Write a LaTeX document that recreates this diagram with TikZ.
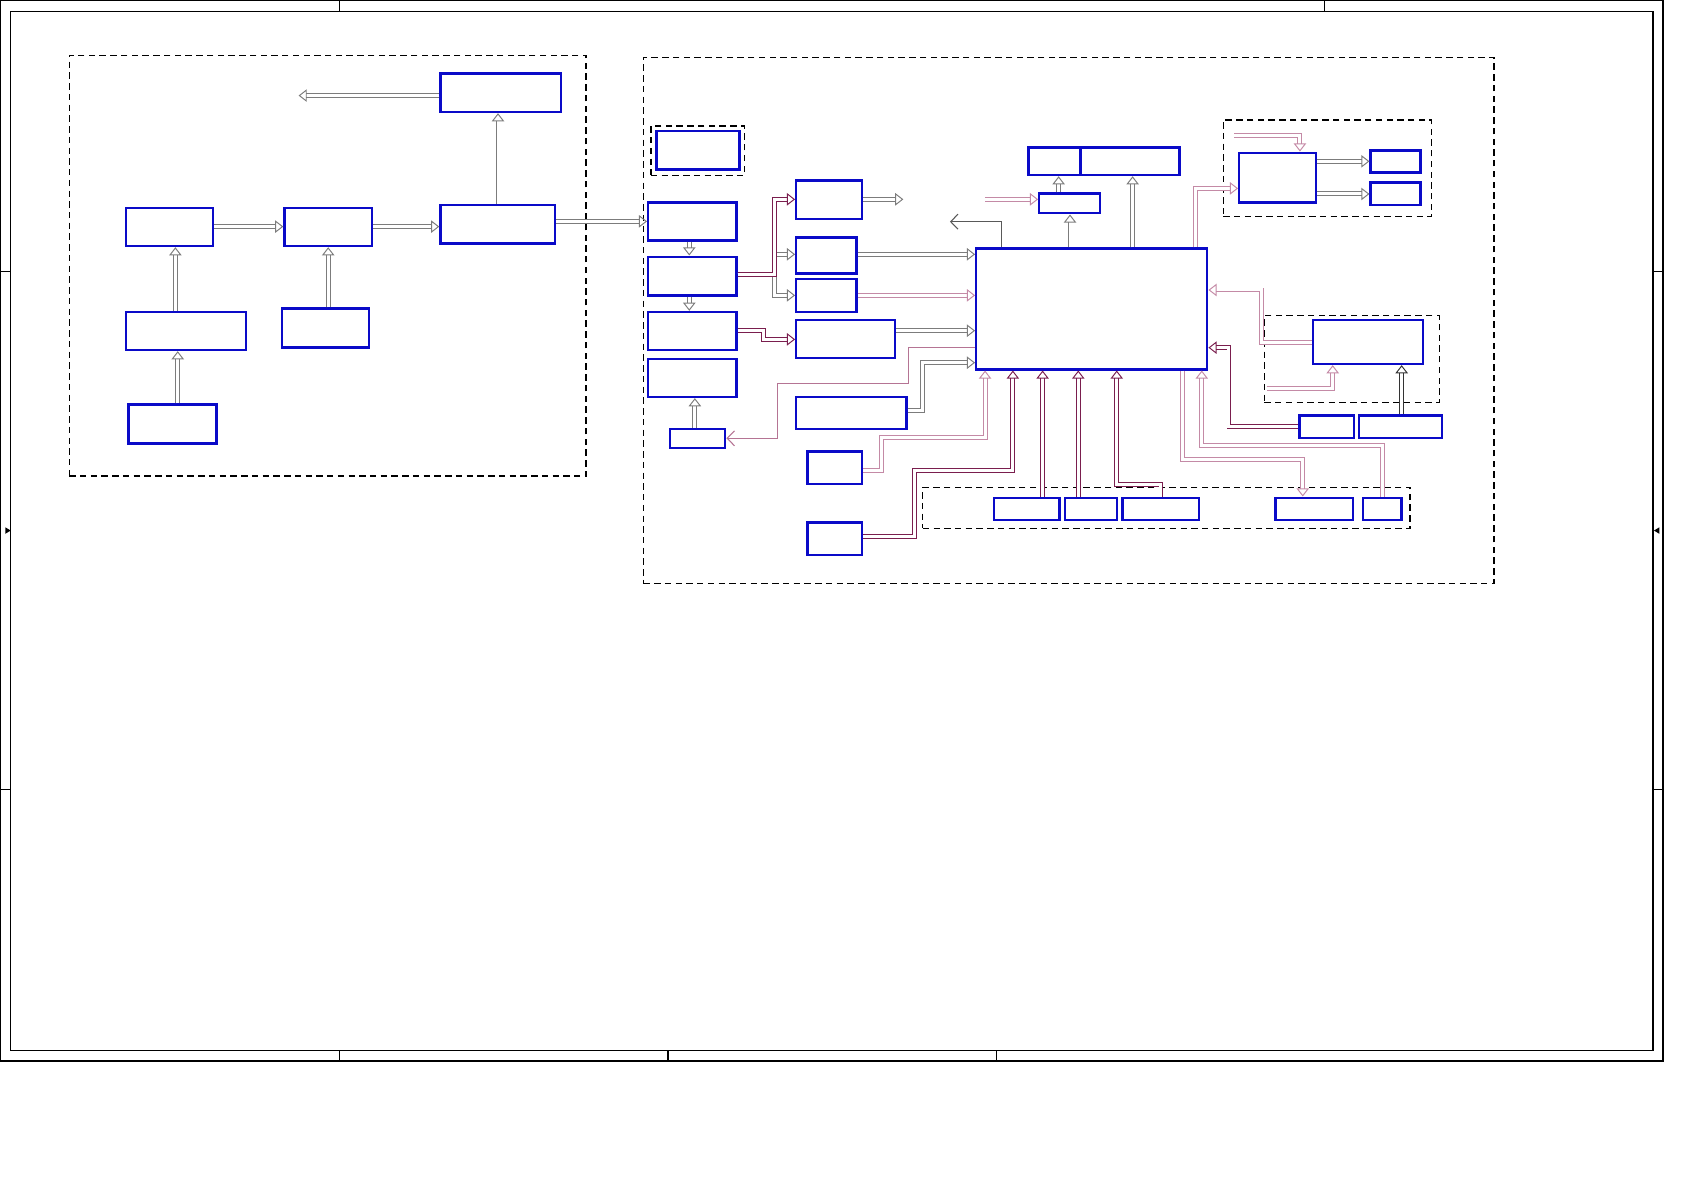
\documentclass[tikz,border=0pt]{standalone}
\usetikzlibrary{arrows.meta,fit}
\definecolor{blkblue}{HTML}{0A0AC8}
\definecolor{busgrey}{HTML}{7C7C7C}
\definecolor{buswine}{HTML}{7A1E4E}
\definecolor{buspinkc}{HTML}{C48AA6}
\begin{document}
\begin{tikzpicture}[
  x=0.5pt, y=-0.5pt,
  blk/.style={draw=blkblue, line width=1.1pt, inner sep=0pt},
  grp/.style={draw=black, line width=0.55pt, dash pattern=on 3pt off 2pt, inner sep=0pt},
  bus/.style={draw=busgrey, line width=0.45pt, double=white, double distance=1.4pt,
    -{Triangle[open, length=3.8pt, width=5.8pt]}},
  busw/.style={bus, draw=buswine},
  busp/.style={bus, draw=buspinkc},
  wire/.style={draw=black!65, line width=0.5pt, -{Straight Barb[length=3.4pt, width=7pt]}},
  wirep/.style={wire, draw=buspinkc!80!buswine},
]
  \useasboundingbox (0,0) rectangle (1568,1108);

  %% ---- Frame ----
  \draw[line width=0.8pt] (0.5,0.5) rectangle (1548.5,988);
  \draw[line width=0.6pt] (10,10.5) rectangle (1539,978);
  \foreach \x in {316,1233} \draw[line width=0.5pt] (\x,0.5) -- (\x,10.5);
  \foreach \x in {316,622,928} \draw[line width=0.5pt] (\x,978) -- (\x,988);
  \foreach \y in {253,735} {
    \draw[line width=0.5pt] (0.5,\y) -- (10,\y);
    \draw[line width=0.5pt] (1539,\y) -- (1548.5,\y);
  }
  \fill (5,491) -- (10,494) -- (5,497) -- cycle;
  \fill (1545,491) -- (1540,494) -- (1545,497) -- cycle;

  %% ---- Left group ----
  \node[grp, fit={(64.5,51.5)(545.7,443.2)}] (lgrp) {};
  \node[blk, fit={(410.1,68.6)(522.3,104.3)}] (ltop)  {};
  \node[blk, fit={(117.1,193.4)(198.5,229.1)}] (lin)  {};
  \node[blk, fit={(264.9,193.4)(346.6,229.1)}] (lconv) {};
  \node[blk, fit={(410.1,190.6)(516.9,226.6)}] (lproc) {};
  \node[blk, fit={(117.1,290.5)(229.3,325.9)}] (lpre) {};
  \node[blk, fit={(262.3,287.4)(343.8,323.4)}] (lsub) {};
  \node[blk, fit={(119.7,376.8)(201.7,412.8)}] (lbase) {};

  \coordinate (lexit) at (278,89);
  \draw[bus] (ltop.west |- lexit) -- (lexit);
  \draw[bus] (lin.east |- 0,211) -- (lconv.west |- 0,211);
  \draw[bus] (lconv.east |- 0,211) -- (lproc.west |- 0,211);
  \draw[bus] (163.3,0 |- lpre.north) -- (163.3,0 |- lin.south);
  \draw[bus] (305.6,0 |- lsub.north) -- (305.6,0 |- lconv.south);
  \draw[bus] (165.5,0 |- lbase.north) -- (165.5,0 |- lpre.south);
  \draw[bus] (463.7,0 |- lproc.north) -- (463.7,0 |- ltop.south);

  %% ---- Right group ----
  \node[grp, fit={(599,53.5)(1391,543)}] (rgrp) {};
  \node[grp, fit={(606.1,117.3)(693,163.2)}] (sgrp) {};
  \node[blk, fit={(611.4,122)(688.4,157.7)}] (solo) {};
  \node[blk, fit={(603.6,188.7)(685.6,223.8)}] (r1) {};
  \node[blk, fit={(603.6,239)(685.6,275)}] (r2) {};
  \node[blk, fit={(603.6,290.5)(685.6,325.9)}] (r3) {};
  \node[blk, fit={(603.6,334)(685.6,369.6)}] (r4) {};
  \node[blk, fit={(624.1,399.7)(675.3,417.4)}] (r5) {};
  \node[blk, fit={(741.4,167.9)(802.6,203.9)}] (c1) {};
  \node[blk, fit={(741.4,221.3)(797.6,254.5)}] (c2) {};
  \node[blk, fit={(741.4,259.5)(797.6,290.8)}] (c3) {};
  \node[blk, fit={(741.4,297.7)(833.6,333.6)}] (c4) {};
  \node[blk, fit={(741.4,369.4)(843.9,399.7)}] (c5) {};
  \node[blk, fit={(751.8,420.3)(802.8,450.7)}] (c6) {};
  \node[blk, fit={(751.8,486.4)(802.8,516.8)}] (c7) {};
  \node[blk, fit={(909,231.5)(1124.1,343.9)}] (main) {};
  \node[blk, fit={(957.5,137.2)(1006.2,163)}] (t1) {};
  \node[blk, fit={(1006.2,137.2)(1098.1,163)}] (t2) {};
  \node[blk, fit={(967.7,180.3)(1024.5,198.6)}] (t3) {};
  \node[grp, fit={(1139,111.7)(1333,201.7)}] (ugrp) {};
  \node[blk, fit={(1153.9,142.2)(1225.6,188.4)}] (u1) {};
  \node[blk, fit={(1276.2,140)(1322.5,160.5)}] (u2) {};
  \node[blk, fit={(1276.2,169.8)(1322.5,190.9)}] (u3) {};
  \node[grp, fit={(1177.2,293.9)(1340.1,374.6)}] (vgrp) {};
  \node[blk, fit={(1222.8,298)(1325.2,338.9)}] (v1) {};
  \node[blk, fit={(1209.8,387)(1261,407.8)}] (w1) {};
  \node[blk, fit={(1265.6,387)(1342.6,407.8)}] (w2) {};
  \node[grp, fit={(859.2,453.8)(1312.9,492)}] (dgrp) {};
  \node[blk, fit={(925.3,463.4)(986.4,484.2)}] (d1) {};
  \node[blk, fit={(991.4,463.4)(1040.1,484.2)}] (d2) {};
  \node[blk, fit={(1045.1,463.4)(1116.2,484.2)}] (d3) {};
  \node[blk, fit={(1187.7,463.4)(1259.5,484.2)}] (d4) {};
  \node[blk, fit={(1269.2,463.4)(1305.1,484.2)}] (d5) {};

  %% ---- Left chain into right group ----
  \draw[bus] (lproc.east |- 0,206.1) -- (r1.west |- 0,206.1);
  \draw[bus] (641.8,0 |- r1.south) -- (641.8,0 |- r2.north);
  \draw[bus] (641.8,0 |- r2.south) -- (641.8,0 |- r3.north);
  \draw[bus] (647,0 |- r5.north) -- (647,0 |- r4.south);

  %% ---- Fan out ----
  \draw[bus] (r2.east |- 0,255.2) -| (720.8,275) -- (c3.west |- 0,275);
  \draw[bus] (r2.east |- 0,255.2) -| (720.8,236.8) -- (c2.west |- 0,236.8);
  \draw[busw] (r2.east |- 0,255.2) -| (720.8,185.6) -- (c1.west |- 0,185.6);
  \draw[busw] (r3.east |- 0,308) -| (711,316) -- (c4.west |- 0,316);
  \coordinate (c1out) at (841.1,185.6);
  \draw[bus] (c1.east |- c1out) -- (c1out);

  %% ---- Into main (left side) ----
  \draw[bus]  (c2.east |- 0,236.8) -- (main.west |- 0,236.8);
  \draw[busp] (c3.east |- 0,275) -- (main.west |- 0,275);
  \draw[bus]  (c4.east |- 0,307.9) -- (main.west |- 0,307.9);
  \draw[bus]  (c5.east |- 0,381.8) -| (858.9,337.7) -- (main.west |- 0,337.7);
  \draw[wirep] (main.west |- 0,323.7) -| (845.8,356.9) -| (723.8,408.1) -- (r5.east |- 0,408.1);

  %% ---- Into main (bottom side) ----
  \draw[busp] (c6.east |- 0,438.3) -| (820.6,407.3) -| (917.2,0 |- main.south);
  \draw[busw] (c7.east |- 0,499.2) -| (851.3,438.5) -| (943.1,0 |- main.south);
  \draw[busw] (970.8,0 |- d1.north) -- (970.8,0 |- main.south);
  \draw[busw] (1004,0 |- d2.north) -- (1004,0 |- main.south);
  \draw[busw] (1081,0 |- d3.north) |- (1039.8,451) -- (1039.8,0 |- main.south);
  \draw[busp] (1101,0 |- main.south) |- (1213,428) -- (1213,0 |- d4.north);
  \draw[busp] (1287,0 |- d5.north) |- (1119,415) -- (1119,0 |- main.south);

  %% ---- Top side ----
  \draw[bus] (996.3,0 |- main.north) -- (996.3,0 |- t3.south);
  \draw[bus] (985.7,0 |- t3.north) -- (985.7,0 |- t1.south);
  \draw[bus] (1054.6,0 |- main.north) -- (1054.6,0 |- t2.south);
  \coordinate (t3in) at (917.1,185.6);
  \draw[busp] (t3in) -- (t3.west |- t3in);
  \coordinate (mainout) at (884.5,206.4);
  \draw[wire] (932.7,0 |- main.north) |- (mainout);

  %% ---- Right side ----
  \draw[busp] (1113.3,0 |- main.north) |- (u1.west |- 0,175.4);
  \coordinate (u1in) at (1149,126.6);
  \draw[busp] (u1in) -| (1210.4,0 |- u1.north);
  \draw[bus] (u1.east |- 0,150.2) -- (u2.west |- 0,150.2);
  \draw[bus] (u1.east |- 0,180.6) -- (u3.west |- 0,180.6);
  \draw[busp] (v1.west |- 0,318.7) -| (1174.7,270) -- (main.east |- 0,270);
  \draw[busw] (w1.west |- 0,397.3) -| (1144.3,323.7) -- (main.east |- 0,323.7);
  \coordinate (v1in) at (1179.4,361.6);
  \draw[busp] (v1in) -| (1240.9,0 |- v1.south);
  \draw[bus, draw=black!80] (1305.1,0 |- w2.north) -- (1305.1,0 |- v1.south);

\end{tikzpicture}
\end{document}
